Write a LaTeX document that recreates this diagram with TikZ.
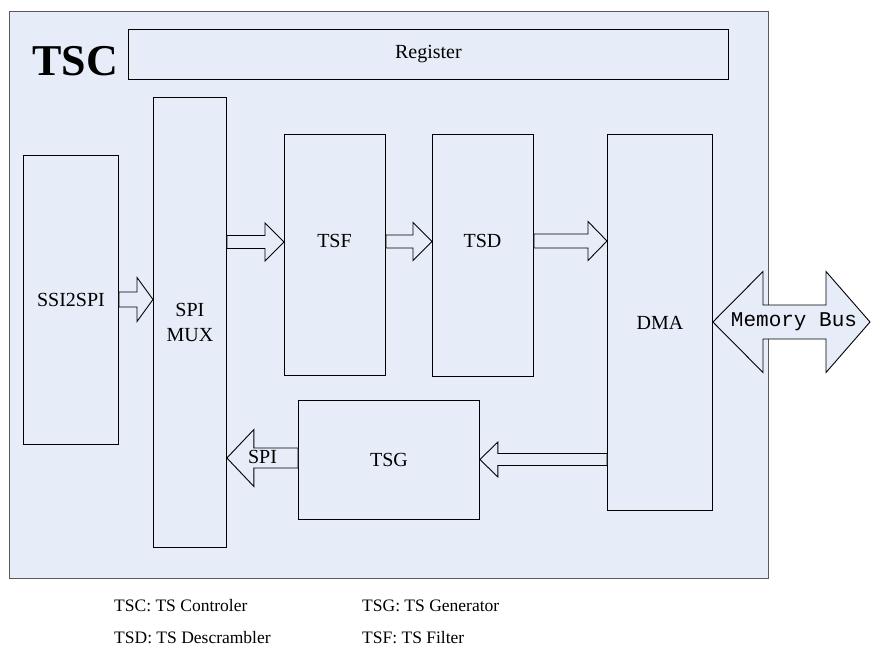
\documentclass[tikz,border=0pt]{standalone}
\usepackage{fontspec}
\setmainfont{Liberation Serif}
\newfontfamily\busfont{Liberation Mono}
\usetikzlibrary{calc}

\definecolor{tscfill}{RGB}{230,237,248}
\tikzset{
  block/.style={draw, fill=tscfill, line width=0.9pt, inner sep=0pt, anchor=north west,
    align=center, font=\fontsize{20}{25}\selectfont},
  blockarrow/.style={draw, fill=tscfill, line width=0.9pt, line join=miter},
  legend/.style={anchor=base west, inner sep=0pt, font=\fontsize{17.5}{20}\selectfont}
}
% right pointing block arrow: from, to, y, shaft half, head half, head length
\newcommand{\rblock}[6]{%
  \coordinate (hb) at ($(#2.west)+(-#6,0)$);
  \draw[blockarrow] (#1.east |- 0,#3-#4) -- (hb |- 0,#3-#4) -- (hb |- 0,#3-#5)
    -- (#2.west |- 0,#3) -- (hb |- 0,#3+#5) -- (hb |- 0,#3+#4) -- (#1.east |- 0,#3+#4) -- cycle;}
% left pointing block arrow
\newcommand{\lblock}[6]{%
  \coordinate (hb) at ($(#2.east)+(#6,0)$);
  \draw[blockarrow] (#1.west |- 0,#3-#4) -- (hb |- 0,#3-#4) -- (hb |- 0,#3-#5)
    -- (#2.east |- 0,#3) -- (hb |- 0,#3+#5) -- (hb |- 0,#3+#4) -- (#1.west |- 0,#3+#4) -- cycle;}

\begin{document}
\begin{tikzpicture}[x=1pt,y=-1pt]
	\useasboundingbox (0,0) rectangle (871,646);
	\node[block, draw=black!65, minimum width=759pt, minimum height=567pt] (tsc) at (9,11) {};
	\node[anchor=base west, inner sep=0pt, font=\bfseries\fontsize{44}{46}\selectfont] (tsclbl) at (32,75) {TSC};
	\node[block, minimum width=600pt, minimum height=50pt] (reg) at (128,29) {Register};
	\node[block, minimum width=95pt, minimum height=289pt] (ssi) at (23,155) {SSI2SPI};
	\node[block, minimum width=73pt, minimum height=450pt] (mux) at (153,97) {SPI\\MUX};
	\node[block, minimum width=101pt, minimum height=241pt] (tsf) at (284,134) {};
	\node[block, minimum width=101pt, minimum height=242pt] (tsd) at (432,134) {};
	\node[block, minimum width=105pt, minimum height=376pt] (dma) at (607,134) {DMA};
	\node[block, minimum width=181pt, minimum height=119pt] (tsg) at (298,400) {TSG};
	\node[font=\fontsize{20}{25}\selectfont] (tsftxt) at (334.5,241) {TSF};
	\node[font=\fontsize{20}{25}\selectfont] (tsdtxt) at (482.5,241) {TSD};

	% data path
	\rblock{ssi}{mux}{299.5}{7.5}{22}{16}
	\rblock{mux}{tsf}{242}{6.5}{19}{19}
	\rblock{tsf}{tsd}{241.5}{6.5}{19}{19}
	\rblock{tsd}{dma}{241}{7}{19.5}{19}
	\lblock{dma}{tsg}{459.5}{6}{17.5}{18}
	\lblock{tsg}{mux}{458}{10}{28.5}{27}
	\node[font=\fontsize{20}{25}\selectfont] (spi) at (262.5,457) {SPI};

	% memory bus
	\coordinate (bus) at (870,322);
	\draw[blockarrow] (dma.east |- 0,322) -- (763,271.5) -- (763,305) -- (826,305) -- (826,271.5)
		-- (bus) -- (826,372.5) -- (826,339) -- (763,339) -- (763,372.5) -- cycle;
	\node[font=\busfont\fontsize{21}{24}\selectfont] (bustxt) at (794,322) {Memory Bus};

	% legend
	\node[legend] (l1) at (114,611) {TSC: TS Controler};
	\node[legend] (l2) at (362,611) {TSG: TS Generator};
	\node[legend] (l3) at (114,643) {TSD: TS Descrambler};
	\node[legend] (l4) at (362,643) {TSF: TS Filter};
\end{tikzpicture}
\end{document}
